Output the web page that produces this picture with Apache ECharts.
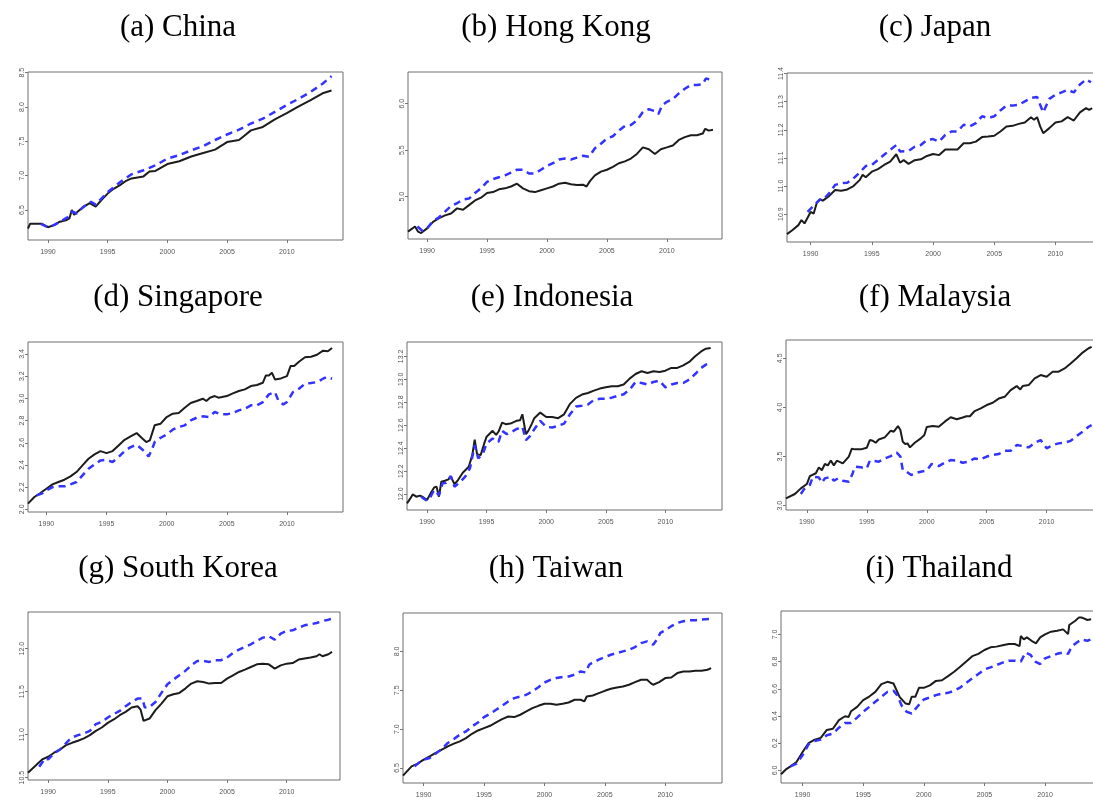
<!DOCTYPE html>
<html>
<head>
<meta charset="utf-8">
<title>Nine economies</title>
<script src="https://cdn.jsdelivr.net/npm/echarts@6/dist/echarts.min.js"></script>
<style>
  html, body { margin: 0; padding: 0; background: #ffffff; }
  #chart { width: 1093px; height: 797px; }
</style>
</head>
<body>
<div id="chart"></div>
<script>
// Tick labels shared by every panel's time axis
const yearTicks = [1990, 1995, 2000, 2005, 2010];

// Panel titles
const titles = ['(a) China', '(b) Hong Kong', '(c) Japan', '(d) Singapore', '(e) Indonesia',
                '(f) Malaysia', '(g) South Korea', '(h) Taiwan', '(i) Thailand'];

// Value-axis tick labels per panel
const chinaTicks = [6.5, 7.0, 7.5, 8.0, 8.5];
const hongKongTicks = [5.0, 5.5, 6.0];
const japanTicks = [10.9, 11.0, 11.1, 11.2, 11.3, 11.4];
const singaporeTicks = [2.0, 2.2, 2.4, 2.6, 2.8, 3.0, 3.2, 3.4];
const indonesiaTicks = [12.0, 12.2, 12.4, 12.6, 12.8, 13.0, 13.2];
const malaysiaTicks = [3.0, 3.5, 4.0, 4.5];
const koreaTicks = [10.5, 11.0, 11.5, 12.0];
const taiwanTicks = [6.5, 7.0, 7.5, 8.0];
const thailandTicks = [6.0, 6.2, 6.4, 6.6, 6.8, 7.0];

// Series values: [year, level]
const chinaSolid = [[1988.33,6.23],[1988.5,6.30],[1989.5,6.30],[1990,6.25],[1990.5,6.28],[1991,6.33],[1991.5,6.35],[1991.8,6.38],[1992,6.50],[1992.2,6.43],[1992.5,6.48],[1993,6.55],[1993.5,6.60],[1994,6.55],[1994.5,6.65],[1995,6.74],[1995.5,6.81],[1996,6.86],[1996.5,6.92],[1997,6.96],[1998,6.99],[1998.5,7.06],[1999,7.07],[2000,7.17],[2001,7.21],[2002,7.28],[2003,7.33],[2004,7.38],[2005,7.49],[2006,7.52],[2006.5,7.59],[2007,7.66],[2008,7.71],[2009,7.82],[2010,7.91],[2011,8.01],[2012,8.10],[2013,8.20],[2013.75,8.24]];
const chinaDashed = [[1989.4,6.30],[1990,6.25],[1990.5,6.28],[1991,6.33],[1991.7,6.40],[1992,6.48],[1992.4,6.45],[1993,6.55],[1993.6,6.62],[1994,6.58],[1995,6.76],[1996,6.90],[1997,7.02],[1998,7.08],[1999,7.15],[2000,7.25],[2001,7.30],[2002,7.37],[2003,7.43],[2004,7.52],[2005,7.60],[2006,7.67],[2007,7.76],[2008,7.83],[2009,7.93],[2010,8.03],[2011,8.12],[2012,8.22],[2013,8.34],[2013.75,8.45]];

const hongKongSolid = [[1988.41,4.625],[1989,4.68],[1989.25,4.625],[1989.5,4.61],[1990,4.66],[1990.5,4.73],[1991,4.77],[1991.5,4.80],[1992,4.82],[1992.5,4.875],[1993,4.86],[1993.5,4.91],[1994,4.96],[1994.5,4.99],[1995,5.04],[1995.5,5.05],[1996,5.08],[1996.5,5.09],[1997,5.11],[1997.5,5.14],[1998,5.09],[1998.5,5.06],[1999,5.05],[1999.5,5.07],[2000,5.09],[2000.5,5.11],[2001,5.14],[2001.5,5.15],[2002,5.135],[2002.5,5.125],[2003,5.13],[2003.3,5.11],[2003.6,5.17],[2004,5.23],[2004.5,5.27],[2005,5.29],[2005.5,5.32],[2006,5.36],[2006.5,5.38],[2007,5.41],[2007.5,5.46],[2008,5.53],[2008.5,5.51],[2009,5.46],[2009.5,5.51],[2010,5.53],[2010.5,5.55],[2011,5.61],[2011.5,5.64],[2012,5.66],[2012.5,5.66],[2013,5.68],[2013.2,5.73],[2013.5,5.71],[2013.85,5.72]];
const hongKongDashed = [[1989.2,4.68],[1989.6,4.635],[1990,4.66],[1990.5,4.74],[1991,4.78],[1991.5,4.84],[1992,4.90],[1992.5,4.93],[1993,4.97],[1993.5,4.98],[1994,5.04],[1994.5,5.09],[1995,5.16],[1995.5,5.19],[1996,5.21],[1996.5,5.23],[1997,5.26],[1997.5,5.29],[1998,5.29],[1998.5,5.25],[1999,5.25],[1999.5,5.29],[2000,5.33],[2000.5,5.36],[2001,5.40],[2001.5,5.41],[2002,5.40],[2002.5,5.42],[2003,5.44],[2003.5,5.43],[2004,5.52],[2004.5,5.57],[2005,5.625],[2005.5,5.65],[2006,5.71],[2006.5,5.76],[2007,5.77],[2007.5,5.82],[2008,5.91],[2008.5,5.94],[2009,5.92],[2009.3,5.89],[2009.6,5.98],[2010,6.02],[2010.5,6.05],[2011,6.11],[2011.5,6.16],[2012,6.20],[2012.5,6.20],[2013,6.21],[2013.25,6.27],[2013.85,6.25]];

const japanSolid = [[1988.07,10.829],[1988.5,10.843],[1989,10.861],[1989.25,10.879],[1989.5,10.867],[1990,10.908],[1990.25,10.902],[1990.5,10.94],[1990.75,10.952],[1991,10.948],[1991.5,10.964],[1992,10.986],[1992.5,10.983],[1993,10.988],[1993.5,11.0],[1994,11.021],[1994.25,11.04],[1994.5,11.031],[1995,11.051],[1995.5,11.06],[1996,11.075],[1996.5,11.087],[1997,11.113],[1997.3,11.083],[1997.6,11.092],[1998,11.079],[1998.5,11.092],[1999,11.095],[1999.5,11.107],[2000,11.114],[2000.5,11.11],[2001,11.13],[2001.5,11.13],[2002,11.13],[2002.5,11.152],[2003,11.152],[2003.5,11.158],[2004,11.174],[2004.5,11.176],[2005,11.179],[2005.5,11.194],[2006,11.212],[2006.5,11.214],[2007,11.221],[2007.5,11.226],[2008,11.245],[2008.25,11.236],[2008.5,11.245],[2008.75,11.212],[2009,11.188],[2009.5,11.206],[2010,11.226],[2010.5,11.23],[2011,11.245],[2011.5,11.233],[2012,11.262],[2012.5,11.277],[2012.75,11.271],[2013,11.277]];
const japanDashed = [[1989.75,10.908],[1990.75,10.952],[1991,10.95],[1991.5,10.974],[1992,11.004],[1992.5,11.01],[1993,11.012],[1993.5,11.027],[1994,11.048],[1994.5,11.071],[1995,11.075],[1995.5,11.093],[1996,11.111],[1996.5,11.129],[1997,11.146],[1997.3,11.123],[1998,11.125],[1998.5,11.14],[1999,11.146],[1999.5,11.164],[2000,11.167],[2000.5,11.158],[2001,11.182],[2001.5,11.194],[2002,11.194],[2002.5,11.218],[2003,11.212],[2003.5,11.224],[2004,11.248],[2004.5,11.242],[2005,11.248],[2005.5,11.269],[2006,11.286],[2006.5,11.286],[2007,11.289],[2007.5,11.301],[2008,11.313],[2008.5,11.317],[2008.75,11.289],[2009,11.262],[2009.5,11.31],[2010,11.325],[2010.5,11.333],[2011,11.342],[2011.5,11.333],[2012,11.361],[2012.5,11.379],[2012.9,11.369]];

const singaporeSolid = [[1988.47,2.051],[1989,2.111],[1989.5,2.147],[1990,2.186],[1990.5,2.225],[1991,2.246],[1991.5,2.267],[1992,2.297],[1992.5,2.336],[1993,2.396],[1993.5,2.456],[1994,2.495],[1994.5,2.525],[1995,2.507],[1995.5,2.525],[1996,2.576],[1996.5,2.627],[1997,2.657],[1997.5,2.687],[1998,2.636],[1998.3,2.606],[1998.6,2.621],[1999,2.757],[1999.5,2.772],[2000,2.832],[2000.5,2.862],[2001,2.868],[2001.5,2.916],[2002,2.958],[2002.5,2.976],[2003,2.997],[2003.3,2.976],[2003.6,3.006],[2004,3.021],[2004.3,3.006],[2004.6,3.012],[2005,3.021],[2005.5,3.045],[2006,3.066],[2006.5,3.081],[2007,3.111],[2007.5,3.12],[2008,3.141],[2008.25,3.207],[2008.5,3.207],[2008.75,3.231],[2009,3.171],[2009.5,3.18],[2010,3.201],[2010.3,3.291],[2010.6,3.291],[2011,3.33],[2011.5,3.37],[2012,3.375],[2012.5,3.393],[2013,3.43],[2013.4,3.424],[2013.75,3.454]];
const singaporeDashed = [[1989.2,2.126],[1989.6,2.141],[1990,2.171],[1990.5,2.2],[1991,2.207],[1991.5,2.207],[1992,2.225],[1992.5,2.246],[1993,2.306],[1993.5,2.366],[1994,2.405],[1994.5,2.441],[1995,2.447],[1995.5,2.426],[1996,2.471],[1996.5,2.525],[1997,2.561],[1997.5,2.582],[1998,2.537],[1998.5,2.477],[1998.8,2.546],[1999,2.606],[1999.5,2.645],[2000,2.675],[2000.5,2.718],[2001,2.742],[2001.5,2.757],[2002,2.802],[2002.5,2.826],[2003,2.838],[2003.5,2.832],[2004,2.877],[2004.5,2.856],[2005,2.856],[2005.5,2.868],[2006,2.892],[2006.5,2.907],[2007,2.937],[2007.5,2.937],[2008,2.967],[2008.5,3.036],[2009,3.057],[2009.3,2.976],[2009.7,2.946],[2010,2.967],[2010.5,3.057],[2011,3.087],[2011.5,3.132],[2012,3.138],[2012.5,3.147],[2013,3.177],[2013.3,3.192],[2013.75,3.177]];

const indonesiaSolid = [[1988.32,11.919],[1988.6,11.962],[1988.8,11.997],[1989.1,11.977],[1989.4,11.986],[1989.6,11.977],[1990,11.948],[1990.3,12.006],[1990.6,12.058],[1990.8,12.064],[1991.0,11.977],[1991.2,12.107],[1991.5,12.116],[1991.8,12.128],[1992,12.151],[1992.3,12.087],[1992.6,12.122],[1993,12.186],[1993.5,12.238],[1993.8,12.339],[1994,12.475],[1994.2,12.348],[1994.5,12.339],[1994.8,12.441],[1995,12.5],[1995.5,12.551],[1995.8,12.516],[1996,12.545],[1996.3,12.623],[1996.6,12.609],[1997,12.614],[1997.5,12.638],[1997.8,12.643],[1998,12.695],[1998.3,12.522],[1998.5,12.551],[1998.8,12.614],[1999,12.661],[1999.5,12.71],[2000,12.672],[2000.5,12.672],[2001,12.661],[2001.5,12.695],[2002,12.786],[2002.5,12.838],[2003,12.867],[2003.5,12.881],[2004,12.901],[2004.5,12.919],[2005,12.93],[2005.5,12.939],[2006,12.939],[2006.5,12.954],[2007,13.006],[2007.5,13.046],[2008,13.07],[2008.5,13.055],[2009,13.07],[2009.5,13.064],[2010,13.075],[2010.5,13.099],[2011,13.099],[2011.5,13.122],[2012,13.151],[2012.5,13.2],[2013,13.243],[2013.4,13.267],[2013.8,13.273]];
const indonesiaDashed = [[1989.5,11.977],[1990,11.942],[1990.3,11.977],[1990.6,12.035],[1991,11.991],[1991.3,12.093],[1991.6,12.099],[1992,12.157],[1992.3,12.064],[1992.8,12.107],[1993.2,12.151],[1993.6,12.223],[1994,12.426],[1994.3,12.31],[1994.7,12.354],[1995,12.441],[1995.5,12.484],[1996,12.455],[1996.3,12.551],[1996.7,12.522],[1997,12.536],[1997.5,12.565],[1998,12.586],[1998.3,12.47],[1998.6,12.5],[1999,12.565],[1999.5,12.638],[2000,12.586],[2000.5,12.58],[2001,12.594],[2001.5,12.614],[2002,12.696],[2002.5,12.762],[2003,12.77],[2003.5,12.78],[2004,12.82],[2004.5,12.83],[2005,12.83],[2005.5,12.84],[2006,12.855],[2006.5,12.87],[2007,12.91],[2007.5,12.977],[2008,12.968],[2008.5,12.954],[2009,12.977],[2009.5,12.988],[2010,12.93],[2010.5,12.954],[2011,12.968],[2011.5,12.968],[2012,12.997],[2012.5,13.046],[2013,13.099],[2013.4,13.128],[2013.8,13.142]];

const malaysiaSolid = [[1988.26,3.075],[1989,3.119],[1989.5,3.176],[1990,3.22],[1990.25,3.30],[1990.75,3.33],[1991,3.39],[1991.25,3.36],[1991.5,3.424],[1991.75,3.41],[1992,3.46],[1992.25,3.41],[1992.5,3.458],[1993,3.43],[1993.5,3.50],[1993.75,3.58],[1994,3.573],[1994.5,3.573],[1995,3.59],[1995.25,3.668],[1995.5,3.66],[1995.75,3.64],[1996,3.674],[1996.5,3.695],[1997,3.763],[1997.25,3.753],[1997.6,3.81],[1997.8,3.77],[1998,3.65],[1998.2,3.627],[1998.4,3.634],[1998.6,3.593],[1999,3.64],[1999.5,3.685],[1999.8,3.72],[2000,3.80],[2000.5,3.81],[2001,3.803],[2001.5,3.855],[2002,3.90],[2002.5,3.88],[2003,3.898],[2003.3,3.91],[2003.6,3.91],[2004,3.963],[2004.5,3.99],[2005,4.024],[2005.5,4.047],[2006,4.09],[2006.5,4.108],[2007,4.176],[2007.5,4.217],[2007.8,4.183],[2008,4.217],[2008.5,4.227],[2009,4.295],[2009.5,4.329],[2010,4.312],[2010.5,4.363],[2011,4.363],[2011.5,4.397],[2012,4.447],[2012.5,4.5],[2013,4.558],[2013.5,4.602],[2013.75,4.617]];
const malaysiaDashed = [[1989.5,3.119],[1989.75,3.166],[1990,3.186],[1990.25,3.21],[1990.5,3.295],[1991,3.288],[1991.25,3.234],[1991.5,3.278],[1992,3.295],[1992.25,3.254],[1992.6,3.278],[1993,3.254],[1993.5,3.244],[1993.8,3.322],[1994,3.397],[1994.5,3.39],[1995,3.38],[1995.25,3.458],[1995.5,3.458],[1996,3.448],[1996.5,3.481],[1997,3.505],[1997.5,3.539],[1997.8,3.5],[1998,3.363],[1998.3,3.346],[1998.7,3.312],[1999,3.329],[1999.5,3.346],[2000,3.356],[2000.4,3.424],[2001,3.403],[2001.5,3.437],[2002,3.464],[2002.5,3.458],[2003,3.437],[2003.5,3.448],[2004,3.481],[2004.5,3.471],[2005,3.50],[2005.5,3.515],[2006,3.525],[2006.5,3.559],[2007,3.559],[2007.5,3.617],[2008,3.607],[2008.5,3.593],[2009,3.64],[2009.5,3.668],[2010,3.583],[2010.5,3.617],[2011,3.634],[2011.5,3.64],[2012,3.66],[2012.5,3.708],[2013,3.753],[2013.5,3.803],[2013.75,3.82]];

const koreaSolid = [[1988.31,10.558],[1989,10.647],[1989.5,10.712],[1990,10.743],[1990.5,10.79],[1991,10.828],[1991.5,10.878],[1992,10.905],[1992.5,10.929],[1993,10.956],[1993.5,10.994],[1994,11.044],[1994.5,11.083],[1995,11.137],[1995.5,11.176],[1996,11.226],[1996.5,11.264],[1997,11.315],[1997.5,11.33],[1997.75,11.29],[1998,11.16],[1998.5,11.187],[1999,11.284],[1999.5,11.361],[2000,11.446],[2000.5,11.469],[2001,11.485],[2001.5,11.535],[2002,11.593],[2002.5,11.62],[2003,11.612],[2003.5,11.593],[2004,11.6],[2004.5,11.6],[2005,11.651],[2005.5,11.69],[2006,11.728],[2006.5,11.755],[2007,11.786],[2007.5,11.817],[2008,11.825],[2008.5,11.817],[2009,11.767],[2009.5,11.805],[2010,11.825],[2010.5,11.832],[2011,11.872],[2011.5,11.884],[2012,11.896],[2012.5,11.911],[2012.75,11.934],[2013,11.911],[2013.5,11.934],[2013.8,11.961]];
const koreaDashed = [[1989.25,10.627],[1989.75,10.724],[1990,10.712],[1990.5,10.782],[1991,10.828],[1991.75,10.936],[1992,10.967],[1992.5,10.994],[1993,11.014],[1993.5,11.044],[1994,11.122],[1994.5,11.149],[1995,11.199],[1995.5,11.238],[1996,11.276],[1996.5,11.33],[1997,11.38],[1997.5,11.419],[1997.9,11.42],[1998.1,11.315],[1998.5,11.322],[1999,11.38],[1999.5,11.485],[2000,11.585],[2000.5,11.64],[2001,11.69],[2001.5,11.74],[2002,11.805],[2002.5,11.857],[2003,11.857],[2003.5,11.845],[2004,11.865],[2004.5,11.865],[2005,11.896],[2005.5,11.95],[2006,11.988],[2006.5,12.019],[2007,12.05],[2007.5,12.089],[2008,12.127],[2008.5,12.143],[2009,12.104],[2009.5,12.174],[2010,12.205],[2010.5,12.212],[2011,12.243],[2011.5,12.27],[2012,12.282],[2012.5,12.297],[2013,12.32],[2013.5,12.336],[2013.8,12.347]];

const taiwanSolid = [[1988.29,6.401],[1989,6.521],[1989.5,6.556],[1990,6.607],[1990.5,6.65],[1991,6.693],[1991.5,6.736],[1992,6.779],[1992.5,6.813],[1993,6.843],[1993.5,6.884],[1994,6.94],[1994.5,6.983],[1995,7.013],[1995.5,7.043],[1996,7.086],[1996.5,7.129],[1997,7.163],[1997.5,7.155],[1998,7.185],[1998.5,7.227],[1999,7.27],[1999.5,7.3],[2000,7.326],[2000.5,7.326],[2001,7.313],[2001.5,7.326],[2002,7.343],[2002.5,7.378],[2003,7.378],[2003.3,7.356],[2003.5,7.42],[2004,7.433],[2004.5,7.463],[2005,7.493],[2005.5,7.519],[2006,7.536],[2006.5,7.549],[2007,7.571],[2007.5,7.605],[2008,7.635],[2008.5,7.635],[2008.8,7.592],[2009,7.571],[2009.5,7.605],[2010,7.657],[2010.5,7.665],[2011,7.721],[2011.5,7.742],[2012,7.742],[2012.5,7.751],[2013,7.751],[2013.5,7.764],[2013.8,7.785]];
const taiwanDashed = [[1989.25,6.521],[1989.75,6.586],[1990,6.607],[1990.5,6.629],[1991,6.685],[1991.5,6.745],[1992,6.822],[1992.5,6.873],[1993,6.929],[1993.5,6.97],[1994,7.034],[1994.5,7.086],[1995,7.155],[1995.5,7.198],[1996,7.249],[1996.5,7.3],[1997,7.356],[1997.5,7.399],[1998,7.42],[1998.5,7.442],[1999,7.485],[1999.5,7.54],[2000,7.6],[2000.5,7.635],[2001,7.657],[2001.5,7.67],[2002,7.678],[2002.5,7.7],[2003,7.742],[2003.4,7.73],[2003.7,7.828],[2004,7.858],[2004.5,7.893],[2005,7.927],[2005.5,7.957],[2006,7.979],[2006.5,8.0],[2007,8.021],[2007.5,8.056],[2008,8.107],[2008.5,8.129],[2009,8.086],[2009.3,8.15],[2009.6,8.238],[2010,8.272],[2010.5,8.324],[2011,8.367],[2011.5,8.388],[2012,8.4],[2012.5,8.4],[2013,8.41],[2013.8,8.418]];

const thailandSolid = [[1988.22,5.971],[1988.6,6.005],[1989,6.029],[1989.5,6.061],[1990,6.135],[1990.5,6.2],[1991,6.226],[1991.5,6.239],[1992,6.297],[1992.5,6.306],[1993,6.369],[1993.5,6.398],[1993.8,6.393],[1994,6.435],[1994.5,6.467],[1995,6.516],[1995.5,6.543],[1996,6.577],[1996.5,6.634],[1997,6.651],[1997.5,6.639],[1998,6.541],[1998.5,6.491],[1998.8,6.486],[1999,6.541],[1999.3,6.541],[1999.6,6.607],[2000,6.607],[2000.5,6.625],[2001,6.658],[2001.5,6.663],[2002,6.693],[2002.5,6.725],[2003,6.762],[2003.5,6.8],[2004,6.84],[2004.5,6.857],[2005,6.885],[2005.5,6.905],[2006,6.91],[2006.5,6.92],[2007,6.929],[2007.5,6.929],[2007.9,6.914],[2008,6.988],[2008.25,6.963],[2008.5,6.978],[2009,6.946],[2009.25,6.934],[2009.6,6.978],[2010,7.0],[2010.5,7.02],[2011,7.027],[2011.5,7.037],[2011.9,7.002],[2012,7.069],[2012.5,7.1],[2012.8,7.125],[2013,7.125],[2013.5,7.106],[2013.8,7.111]];
const thailandDashed = [[1989,6.029],[1989.5,6.049],[1990,6.111],[1990.5,6.192],[1991,6.216],[1991.5,6.226],[1992,6.258],[1992.5,6.27],[1993,6.314],[1993.5,6.349],[1994,6.349],[1994.5,6.388],[1995,6.43],[1995.5,6.467],[1996,6.504],[1996.5,6.541],[1997,6.577],[1997.5,6.585],[1997.8,6.553],[1998.2,6.472],[1998.6,6.43],[1999,6.418],[1999.5,6.472],[2000,6.521],[2000.5,6.536],[2001,6.553],[2001.5,6.565],[2002,6.57],[2002.5,6.585],[2003,6.609],[2003.5,6.644],[2004,6.677],[2004.5,6.708],[2005,6.742],[2005.5,6.757],[2006,6.775],[2006.5,6.792],[2007,6.807],[2007.5,6.807],[2008,6.8],[2008.4,6.867],[2008.8,6.85],[2009.2,6.8],[2009.6,6.782],[2010,6.824],[2010.5,6.84],[2011,6.857],[2011.5,6.867],[2011.9,6.857],[2012.2,6.91],[2012.6,6.939],[2013,6.963],[2013.5,6.953],[2013.8,6.963]];

// Per-panel axis ranges [min, max]
const xRanges = [[1988.33,2014.71],[1988.41,2014.6],[1988.07,2014.7],[1988.47,2014.66],[1988.32,2014.75],[1988.26,2014.7],[1988.31,2014.47],[1988.29,2014.7],[1988.22,2014.7]];
const yRanges = [[6.064,8.51],[4.546,6.34],[10.801,11.402],[1.976,3.508],[11.861,13.325],[2.956,4.686],[10.473,12.425],[6.307,8.494],[5.907,7.172]];

// Panel boxes in pixels: [left, top, width, height]
const boxes = [
  [28, 72, 315, 168], [408, 72, 314, 167], [787, 73, 326, 169],
  [28, 342, 315, 170], [407, 342, 315, 168], [786, 340, 317, 170],
  [28, 612, 312, 168], [403, 613, 319, 170], [781, 611, 321, 172]
];

const solids = [chinaSolid, hongKongSolid, japanSolid, singaporeSolid, indonesiaSolid, malaysiaSolid, koreaSolid, taiwanSolid, thailandSolid];
const dashes = [chinaDashed, hongKongDashed, japanDashed, singaporeDashed, indonesiaDashed, malaysiaDashed, koreaDashed, taiwanDashed, thailandDashed];
const yTicks = [chinaTicks, hongKongTicks, japanTicks, singaporeTicks, indonesiaTicks, malaysiaTicks, koreaTicks, taiwanTicks, thailandTicks];

const labelFont = 'Liberation Sans, Arial, sans-serif';
const grids = [], xAxes = [], yAxes = [], series = [], graphics = [];

boxes.forEach((b, i) => {
  grids.push({
    left: b[0], top: b[1], width: b[2], height: b[3],
    show: true, borderColor: '#6e6e6e', borderWidth: 1,
    backgroundColor: 'transparent', containLabel: false, outerBoundsMode: 'none'
  });
  xAxes.push({
    type: 'value', gridIndex: i, min: xRanges[i][0], max: xRanges[i][1],
    axisLine: { show: false }, splitLine: { show: false },
    axisTick: { show: true, length: 3, customValues: yearTicks, lineStyle: { color: '#777', width: 1 } },
    axisLabel: {
      customValues: yearTicks, fontSize: 7, color: '#555', margin: 9, fontFamily: labelFont,
      formatter: v => String(Math.round(v))
    }
  });
  yAxes.push({
    type: 'value', gridIndex: i, min: yRanges[i][0], max: yRanges[i][1],
    axisLine: { show: false }, splitLine: { show: false },
    axisTick: { show: true, length: 3, customValues: yTicks[i], lineStyle: { color: '#777', width: 1 } },
    axisLabel: {
      customValues: yTicks[i], fontSize: 7, color: '#555', margin: 2, rotate: 90,
      fontFamily: labelFont, formatter: v => Number(v).toFixed(1)
    }
  });
  series.push({
    type: 'line', xAxisIndex: i, yAxisIndex: i, data: solids[i],
    symbol: 'none', silent: true, z: 2,
    lineStyle: { color: '#1c1c1c', width: 2 }
  });
  series.push({
    type: 'line', xAxisIndex: i, yAxisIndex: i, data: dashes[i],
    symbol: 'none', silent: true, z: 3,
    lineStyle: { color: '#3333ff', width: 2.5, type: [7, 5] }
  });
});

// Panel titles, centred above each box
const titlePos = [[178, 28], [556, 28], [935, 28], [178, 298], [552, 298], [935, 298], [178, 569], [556, 569], [939, 569]];
titles.forEach((t, i) => {
  graphics.push({
    type: 'text', x: titlePos[i][0], y: titlePos[i][1], silent: true,
    style: {
      text: t, fill: '#000', align: 'center', verticalAlign: 'middle',
      font: '31px "Liberation Serif", "Times New Roman", serif'
    }
  });
});

const chart = echarts.init(document.getElementById('chart'), null, { renderer: 'canvas' });
chart.setOption({
  animation: false,
  backgroundColor: '#ffffff',
  grid: grids, xAxis: xAxes, yAxis: yAxes, series: series, graphic: graphics
});
</script>
</body>
</html>
